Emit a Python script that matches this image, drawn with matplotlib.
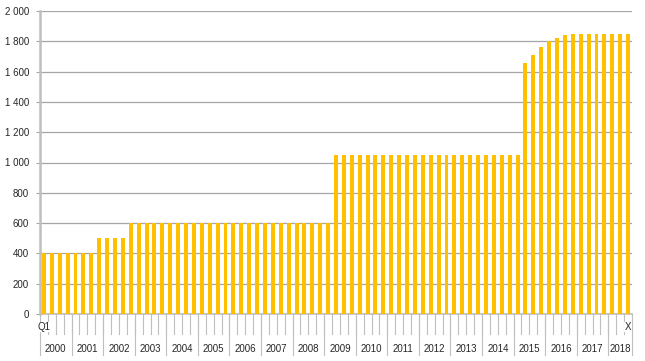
import matplotlib.pyplot as plt
from matplotlib.ticker import FuncFormatter

plt.rcParams["font.family"] = ["Liberation Sans", "DejaVu Sans"]

# quarterly series, 2000 Q1 .. 2018 Q3
years = list(range(2000, 2019))
quarters_per_year = [4] * 18 + [3]
quarter_labels = ["Q1"] + [""] * 73 + ["X"]
values = ([400] * 7 + [500] * 4 + [600] * 26 + [1050] * 24
          + [1660, 1710, 1760, 1800, 1820, 1840] + [1845] * 8)

bar_color = "#FFC000"
line_color = "#BFBFBF"
grid_color = "#A6A6A6"
text_color = "#262626"


def thousands(v, pos):
    return f"{int(v):,}".replace(",", " ")


def main():
    fig = plt.figure(figsize=(6.45, 3.61), dpi=100)
    ax = fig.add_axes([40 / 645, 47 / 361, 592 / 645, 303 / 361])

    x = list(range(len(values)))
    ax.bar(x, values, width=0.5, color=bar_color, zorder=3)

    ax.set_xlim(-0.5, len(values) - 0.5)
    ax.set_ylim(0, 2000)
    ax.set_yticks(range(0, 2001, 200))
    ax.yaxis.set_major_formatter(FuncFormatter(thousands))
    ax.grid(axis="y", color=grid_color, linewidth=0.9, zorder=0)
    ax.tick_params(axis="y", length=3, width=0.8, color=grid_color,
                   labelsize=7, pad=5, labelcolor=text_color)
    ax.set_xticks([])

    for side in ["top", "right"]:
        ax.spines[side].set_visible(False)
    ax.spines["left"].set_color(line_color)
    ax.spines["left"].set_linewidth(1.8)
    ax.spines["bottom"].set_color(line_color)
    ax.spines["bottom"].set_linewidth(1.2)

    trans = ax.get_xaxis_transform()
    q_bottom = -20 / 303
    y_bottom = -41 / 303

    # quarter row: boundaries and labels
    for i in range(1, len(values)):
        ax.plot([i - 0.5, i - 0.5], [0, q_bottom], color=line_color,
                linewidth=0.8, transform=trans, clip_on=False)
    for i, lab in enumerate(quarter_labels):
        if lab:
            ax.text(i, -13 / 303, lab, transform=trans, ha="center",
                    va="center", fontsize=7, color=text_color, zorder=5,
                    bbox=dict(facecolor="white", edgecolor="none", pad=0.3))

    # year row: separators and labels
    start = 0
    bounds = [-0.5]
    for yr, n in zip(years, quarters_per_year):
        ax.text(start + (n - 1) / 2, -35 / 303, str(yr), transform=trans,
                ha="center", va="center", fontsize=7, color=text_color)
        start += n
        bounds.append(start - 0.5)
    for b in bounds:
        ax.plot([b, b], [0, y_bottom], color=line_color, linewidth=0.8,
                transform=trans, clip_on=False)

    fig.savefig("out.png", dpi=100)


if __name__ == "__main__":
    main()
